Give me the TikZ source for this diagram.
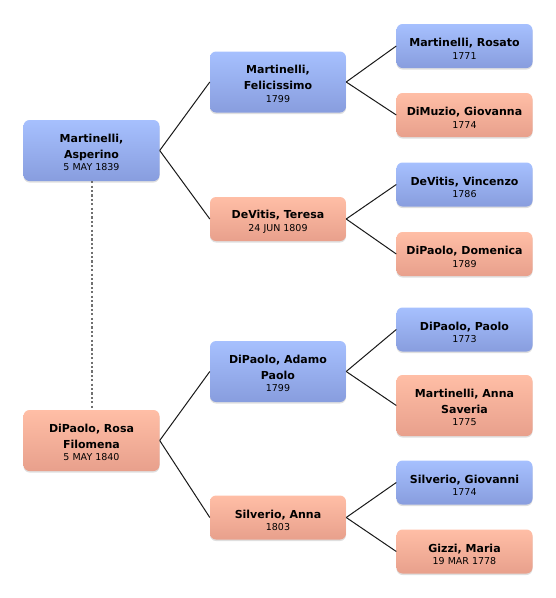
\documentclass[tikz,border=0pt]{standalone}
\usepackage{fontspec}
\setmainfont{DejaVu Sans}
\usetikzlibrary{shadows}
\definecolor{mblueT}{RGB}{166,192,254}
\definecolor{mblueB}{RGB}{136,157,222}
\definecolor{fsalT}{RGB}{255,190,166}
\definecolor{fsalB}{RGB}{232,160,140}
\definecolor{dashgray}{RGB}{112,112,112}
\newcommand{\dt}[1]{{\fontsize{9.5}{12}\selectfont\mdseries #1}}
\newcommand{\up}{\rule{0pt}{14pt}}
\newcommand{\upp}{\rule{0pt}{12pt}}
\tikzset{
 person/.style={rounded corners=6pt, minimum width=136pt, align=center, inner sep=2pt,
   font=\fontsize{11}{16}\selectfont\bfseries,
   drop shadow={shadow xshift=0pt, shadow yshift=-1.5pt, opacity=0.25, fill=black!50}},
 male/.style={person, top color=mblueT, bottom color=mblueB},
 female/.style={person, top color=fsalT, bottom color=fsalB},
 two/.style={minimum height=44pt},
 three/.style={minimum height=61pt},
 link/.style={draw=black!90, line width=1pt},
 marriage/.style={draw=dashgray, line width=2pt, dash pattern=on 2.2pt off 2.2pt}
}
\begin{document}
\begin{tikzpicture}[x=1pt,y=-1pt]
\useasboundingbox (0,0) rectangle (556,598);
\node[male,three] (a) at (91.5,150.5) {\upp Martinelli,\\Asperino\\[-3.5pt]\dt{5 MAY 1839}};
\node[female,three] (b) at (91.5,440.5) {\upp DiPaolo, Rosa\\Filomena\\[-3.5pt]\dt{5 MAY 1840}};
\node[male,three] (c) at (278,82) {\upp Martinelli,\\Felicissimo\\[-3.5pt]\dt{1799}};
\node[female,two] (d) at (278,219) {\up DeVitis, Teresa\\[-3.5pt]\dt{24 JUN 1809}};
\node[male,three] (e) at (278,371.5) {\upp DiPaolo, Adamo\\Paolo\\[-3.5pt]\dt{1799}};
\node[female,two] (f) at (278,517.5) {\up Silverio, Anna\\[-3.5pt]\dt{1803}};
\node[male,two] (g) at (464.5,46) {\up Martinelli, Rosato\\[-3.5pt]\dt{1771}};
\node[female,two] (h) at (464.5,115) {\up DiMuzio, Giovanna\\[-3.5pt]\dt{1774}};
\node[male,two] (i) at (464.5,184.5) {\up DeVitis, Vincenzo\\[-3.5pt]\dt{1786}};
\node[female,two] (j) at (464.5,254) {\up DiPaolo, Domenica\\[-3.5pt]\dt{1789}};
\node[male,two] (k) at (464.5,329.5) {\up DiPaolo, Paolo\\[-3.5pt]\dt{1773}};
\node[female,three] (l) at (464.5,405.5) {\upp Martinelli, Anna\\Saveria\\[-3.5pt]\dt{1775}};
\node[male,two] (m) at (464.5,482.5) {\up Silverio, Giovanni\\[-3.5pt]\dt{1774}};
\node[female,two] (n) at (464.5,551.5) {\up Gizzi, Maria\\[-3.5pt]\dt{19 MAR 1778}};
\draw[marriage] (a.south) -- (b.north);
\draw[link] (a.east) -- (c.west);
\draw[link] (a.east) -- (d.west);
\draw[link] (b.east) -- (e.west);
\draw[link] (b.east) -- (f.west);
\draw[link] (c.east) -- (g.west);
\draw[link] (c.east) -- (h.west);
\draw[link] (d.east) -- (i.west);
\draw[link] (d.east) -- (j.west);
\draw[link] (e.east) -- (k.west);
\draw[link] (e.east) -- (l.west);
\draw[link] (f.east) -- (m.west);
\draw[link] (f.east) -- (n.west);
\end{tikzpicture}
\end{document}
